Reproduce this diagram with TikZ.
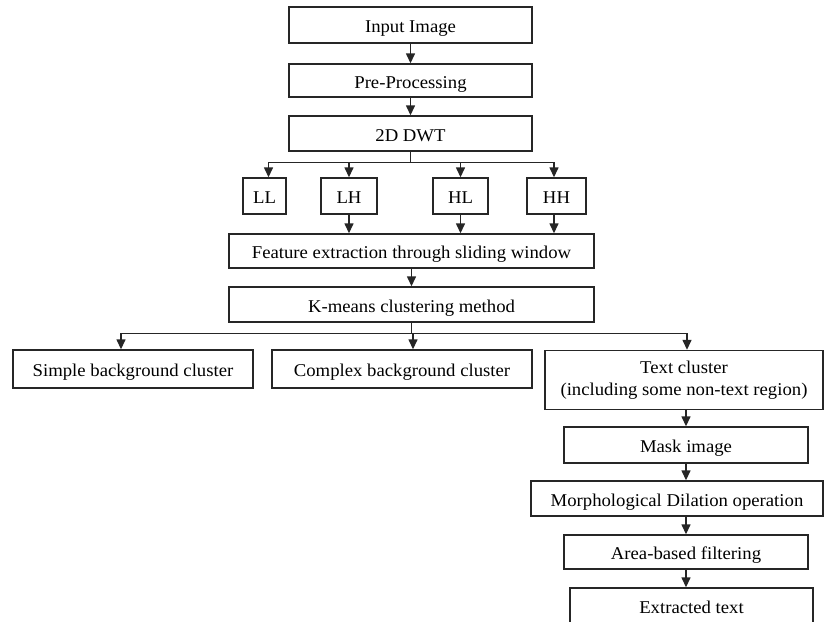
\documentclass[tikz,border=0pt]{standalone}
\usepackage{fontspec}
\setmainfont{Liberation Serif}[FakeStretch=1.04]
\usetikzlibrary{arrows.meta}
\tikzset{
  box/.style={draw=black!85, line width=1.4pt, inner sep=0pt, align=center, rectangle},
  blk/.style={box, text height=16pt, text depth=1pt},
  arr/.style={draw=black!85, line width=1.4pt, -{Triangle[length=10pt,width=9pt]}},
  ln/.style={draw=black!85, line width=1.4pt},
}
\begin{document}
\begin{tikzpicture}[x=1pt,y=-1pt,font=\fontsize{18}{22}\selectfont]
\useasboundingbox[fill=white] (0,0) rectangle (824,621);
\node[blk, minimum width=243, minimum height=36] (in) at (410.5,25) {Input Image};
\node[blk, minimum width=243, minimum height=33] (pre) at (410.5,80.5) {Pre-Processing};
\node[blk, minimum width=243, minimum height=35] (dwt) at (410.5,133.5) {2D DWT};
\node[blk, minimum width=43, minimum height=36] (ll) at (264.5,196) {LL};
\node[blk, minimum width=56, minimum height=36] (lh) at (349,196) {LH};
\node[blk, minimum width=55, minimum height=36] (hl) at (460.5,196) {HL};
\node[blk, minimum width=59, minimum height=36] (hh) at (556.5,196) {HH};
\node[blk, minimum width=365, minimum height=34] (feat) at (411.5,251) {Feature extraction through sliding window};
\node[blk, minimum width=365, minimum height=35] (km) at (411.5,304.5) {K-means clustering method};
\node[blk, minimum width=240, minimum height=38] (simple) at (133,369) {Simple background cluster};
\node[blk, minimum width=260, minimum height=38] (complex) at (402,369) {Complex background cluster};
\node[box, minimum width=278, minimum height=59] (text) at (684,380) {Text cluster\\(including some non-text region)};
\node[blk, minimum width=244, minimum height=36] (mask) at (686,445) {Mask image};
\node[blk, minimum width=292, minimum height=35] (morph) at (677,498.5) {Morphological Dilation operation};
\node[blk, minimum width=244, minimum height=34] (area) at (686,552) {Area-based filtering};
\node[blk, minimum width=243, minimum height=36] (extr) at (691.5,606) {Extracted text};

\draw[arr] (in.south) -- (pre.north);
\draw[arr] (pre.south) -- (dwt.north);
\draw[ln] (dwt.south) -- ++(0,11);
\draw[arr] ([yshift=-11pt]dwt.south) -| ([xshift=4pt]ll.north);
\draw[arr] ([yshift=-11pt]dwt.south) -| (lh.north);
\draw[arr] ([yshift=-11pt]dwt.south) -| (hl.north);
\draw[arr] ([yshift=-11pt]dwt.south) -| ([xshift=-2.5pt]hh.north);
\draw[arr] (lh.south) -- (lh.south |- feat.north);
\draw[arr] (hl.south) -- (hl.south |- feat.north);
\draw[arr] ([xshift=-2.5pt]hh.south) -- ([xshift=-2.5pt]hh.south |- feat.north);
\draw[arr] (feat.south) -- (km.north);
\draw[ln] (km.south) -- ++(0,11);
\draw[arr] ([yshift=-11pt]km.south) -| ([xshift=-12pt]simple.north);
\draw[arr] ([yshift=-11pt]km.south) -| ([xshift=11pt]complex.north);
\draw[arr] ([yshift=-11pt]km.south) -| ([xshift=3pt]text.north);
\draw[arr] (mask.north |- text.south) -- (mask.north);
\draw[arr] (mask.south) -- (mask.south |- morph.north);
\draw[arr] (area.north |- morph.south) -- (area.north);
\draw[arr] (area.south) -- (area.south |- extr.north);
\end{tikzpicture}
\end{document}
